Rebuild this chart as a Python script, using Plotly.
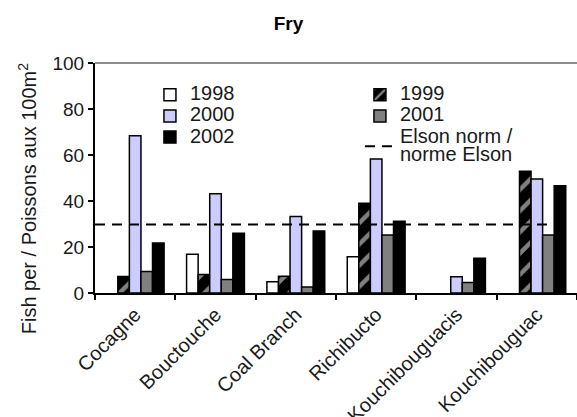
import plotly.graph_objects as go

# Fry density per site and year (fish per 100 m²); None = not sampled
sites = ["Cocagne", "Bouctouche", "Coal Branch", "Richibucto",
         "Kouchibouguacis", "Kouchibouguac"]
fry_1998 = [None, 16.9, 4.9, 15.8, None, None]
fry_1999 = [7.2, 8.0, 7.3, 39.0, None, 52.9]
fry_2000 = [68.4, 43.1, 33.3, 58.3, 7.1, 49.6]
fry_2001 = [9.3, 5.9, 2.6, 25.2, 4.6, 25.2]
fry_2002 = [21.7, 26.0, 27.0, 31.2, 15.1, 46.6]
elson_norm = 29.8

y_ticks = [0, 20, 40, 60, 80, 100]

FONT = "Liberation Sans, Arial, sans-serif"
TXT = "#1a1a1a"
OUTLINE = dict(color="black", width=1.5)


def legend_label(text):
    return f'<span style="font-size:20px">{text}</span>'


fig = go.Figure()

fig.add_trace(go.Bar(name=legend_label("1998"), x=sites, y=fry_1998,
                     marker=dict(color="white", line=OUTLINE)))
fig.add_trace(go.Bar(name=legend_label("1999"), x=sites, y=fry_1999,
                     marker=dict(color="black", line=OUTLINE,
                                 pattern=dict(shape="/", fgcolor="white",
                                              bgcolor="black", size=15,
                                              solidity=0.3))))
fig.add_trace(go.Bar(name=legend_label("2000"), x=sites, y=fry_2000,
                     marker=dict(color="#ccccff", line=OUTLINE)))
fig.add_trace(go.Bar(name=legend_label("2001"), x=sites, y=fry_2001,
                     marker=dict(color="#808080", line=OUTLINE)))
fig.add_trace(go.Bar(name=legend_label("2002"), x=sites, y=fry_2002,
                     marker=dict(color="black", line=OUTLINE)))

# legend entry for the Elson norm reference line
fig.add_trace(go.Scatter(name=legend_label("Elson norm /<br>norme Elson"),
                         x=[None], y=[None], mode="lines",
                         line=dict(color="black", width=2, dash="10px,7px")))

# Elson norm across the plot area
fig.add_shape(type="line", xref="paper", yref="y", x0=0, x1=0.98,
              y0=elson_norm, y1=elson_norm,
              line=dict(color="black", width=2, dash="10px,7px"))
# grey frame line along the top of the plot area
fig.add_shape(type="line", xref="paper", yref="paper", x0=0, x1=1,
              y0=1, y1=1, line=dict(color="#8c8c8c", width=2))

# rotated y-axis title, set a little below the middle of the axis
fig.add_annotation(text="Fish per / Poissons aux 100m<sup>2</sup>",
                   xref="paper", yref="paper", x=-0.14, y=0.41,
                   xanchor="center", yanchor="middle", textangle=-90,
                   showarrow=False,
                   font=dict(family=FONT, size=20, color=TXT))

fig.update_layout(
    width=577, height=417,
    margin=dict(l=95, r=0, t=63, b=124),
    paper_bgcolor="white", plot_bgcolor="white",
    font=dict(family=FONT, size=18, color=TXT),
    title=dict(text="<b>Fry</b>", x=0.5, xref="container", xanchor="center",
               y=1 - 23 / 417, yref="container", yanchor="middle",
               font=dict(family=FONT, size=19, color="black")),
    barmode="group", bargap=0.28, bargroupgap=0,
    showlegend=True,
    legend=dict(orientation="h", x=0.114, xanchor="left", y=0.93,
                yanchor="top", bgcolor="rgba(0,0,0,0)", borderwidth=0,
                font=dict(family=FONT, size=14, color=TXT),
                entrywidth=165, entrywidthmode="pixels",
                traceorder="normal"),
)

fig.update_xaxes(
    type="category", showgrid=False, showline=True, linecolor="black",
    linewidth=2, ticks="outside", tickson="boundaries", ticklen=5,
    tickwidth=2, tickcolor="black", tickangle=-45, automargin=False,
    tickfont=dict(family=FONT, size=20, color=TXT),
)
fig.update_yaxes(
    range=[0, 100], tickvals=y_ticks, showgrid=False, zeroline=False,
    showline=True, linecolor="black", linewidth=2, ticks="outside",
    ticklen=5, tickwidth=2, tickcolor="black", automargin=False,
    tickfont=dict(family=FONT, size=19, color=TXT),
)

fig.write_html("out.html")
